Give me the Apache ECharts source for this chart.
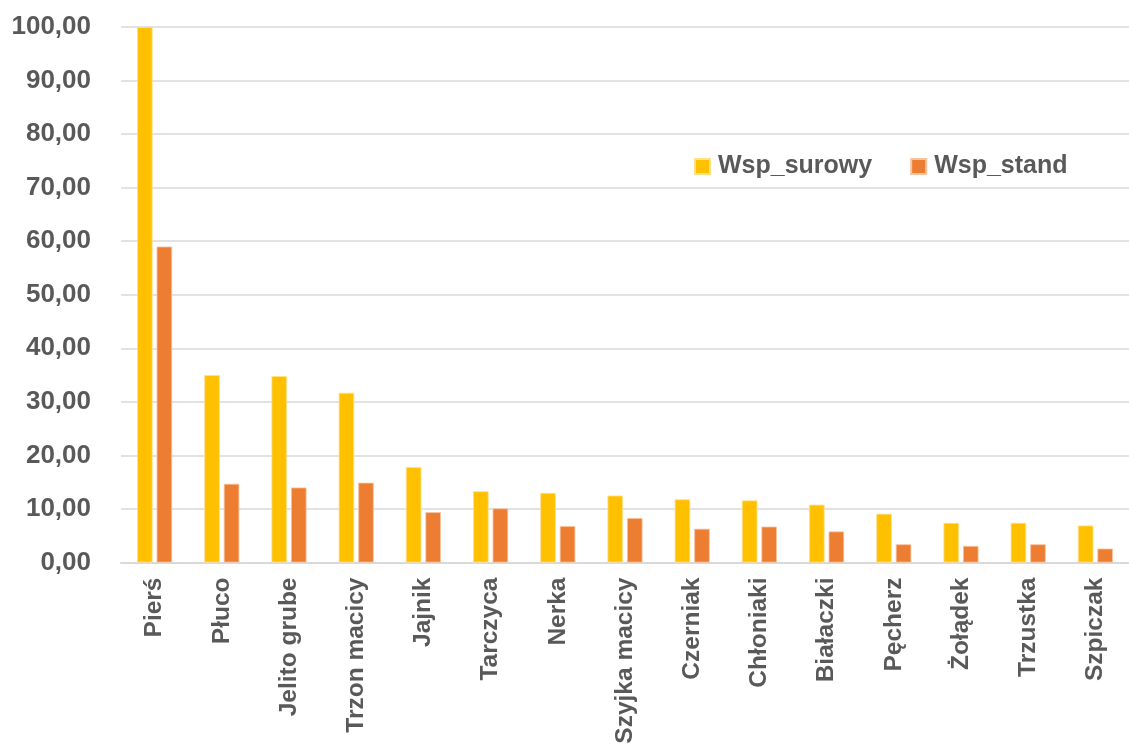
<!DOCTYPE html>
<html>
<head>
<meta charset="utf-8">
<script src="https://cdn.jsdelivr.net/npm/echarts@6/dist/echarts.min.js"></script>
<style>
html,body{margin:0;padding:0;background:#fff;}
#c{width:1129px;height:749px;}
</style>
</head>
<body>
<div id="c"></div>
<script>
const categories = ['Pierś','Płuco','Jelito grube','Trzon macicy','Jajnik','Tarczyca','Nerka','Szyjka macicy','Czerniak','Chłoniaki','Białaczki','Pęcherz','Żołądek','Trzustka','Szpiczak'];
const wspSurowy = [100.0, 35.0, 34.8, 31.7, 17.8, 13.3, 13.0, 12.5, 11.8, 11.6, 10.8, 9.1, 7.4, 7.4, 6.9];
const wspStand  = [59.0, 14.7, 14.0, 14.9, 9.4, 10.1, 6.8, 8.3, 6.3, 6.7, 5.8, 3.4, 3.1, 3.4, 2.6];

const chart = echarts.init(document.getElementById('c'), null, {renderer:'canvas'});
const font = 'Liberation Sans, Arial, sans-serif';
chart.setOption({
  animation:false,
  backgroundColor:'#ffffff',
  grid:{left:121, top:27, width:1021, bottom:186.5, containLabel:false},
  legend:{
    data:['Wsp_surowy','Wsp_stand'],
    left:689, top:149,
    icon:'rect', itemWidth:15, itemHeight:15, itemGap:38,
    textStyle:{color:'#595959', fontSize:25, fontWeight:'bold', fontFamily:font, padding:[0,0,0,3]}
  },
  xAxis:{
    type:'category', data:categories,
    axisLine:{show:true, lineStyle:{color:'#d9d9d9', width:2}},
    axisTick:{show:false},
    axisLabel:{rotate:90, interval:0, margin:15, color:'#595959', fontSize:24.5, fontFamily:font, fontWeight:'bold'}
  },
  yAxis:{
    type:'value', min:0, max:100, interval:10,
    axisLine:{show:false}, axisTick:{show:false},
    splitLine:{lineStyle:{color:'#d9d9d9', width:1.5}},
    axisLabel:{margin:30, color:'#595959', fontSize:26, fontWeight:'bold', fontFamily:font,
      formatter:v=>v.toFixed(2).replace('.',',')}
  },
  series:[
    {name:'Wsp_surowy', type:'bar', data:wspSurowy, barWidth:15.5, barGap:'26%',
     itemStyle:{color:'#FFC000', borderColor:'#FFE08A', borderWidth:0.8}},
    {name:'Wsp_stand', type:'bar', data:wspStand, barWidth:15.5,
     itemStyle:{color:'#ED7D31', borderColor:'#F7C3A0', borderWidth:0.8}}
  ]
});
</script>
</body>
</html>
